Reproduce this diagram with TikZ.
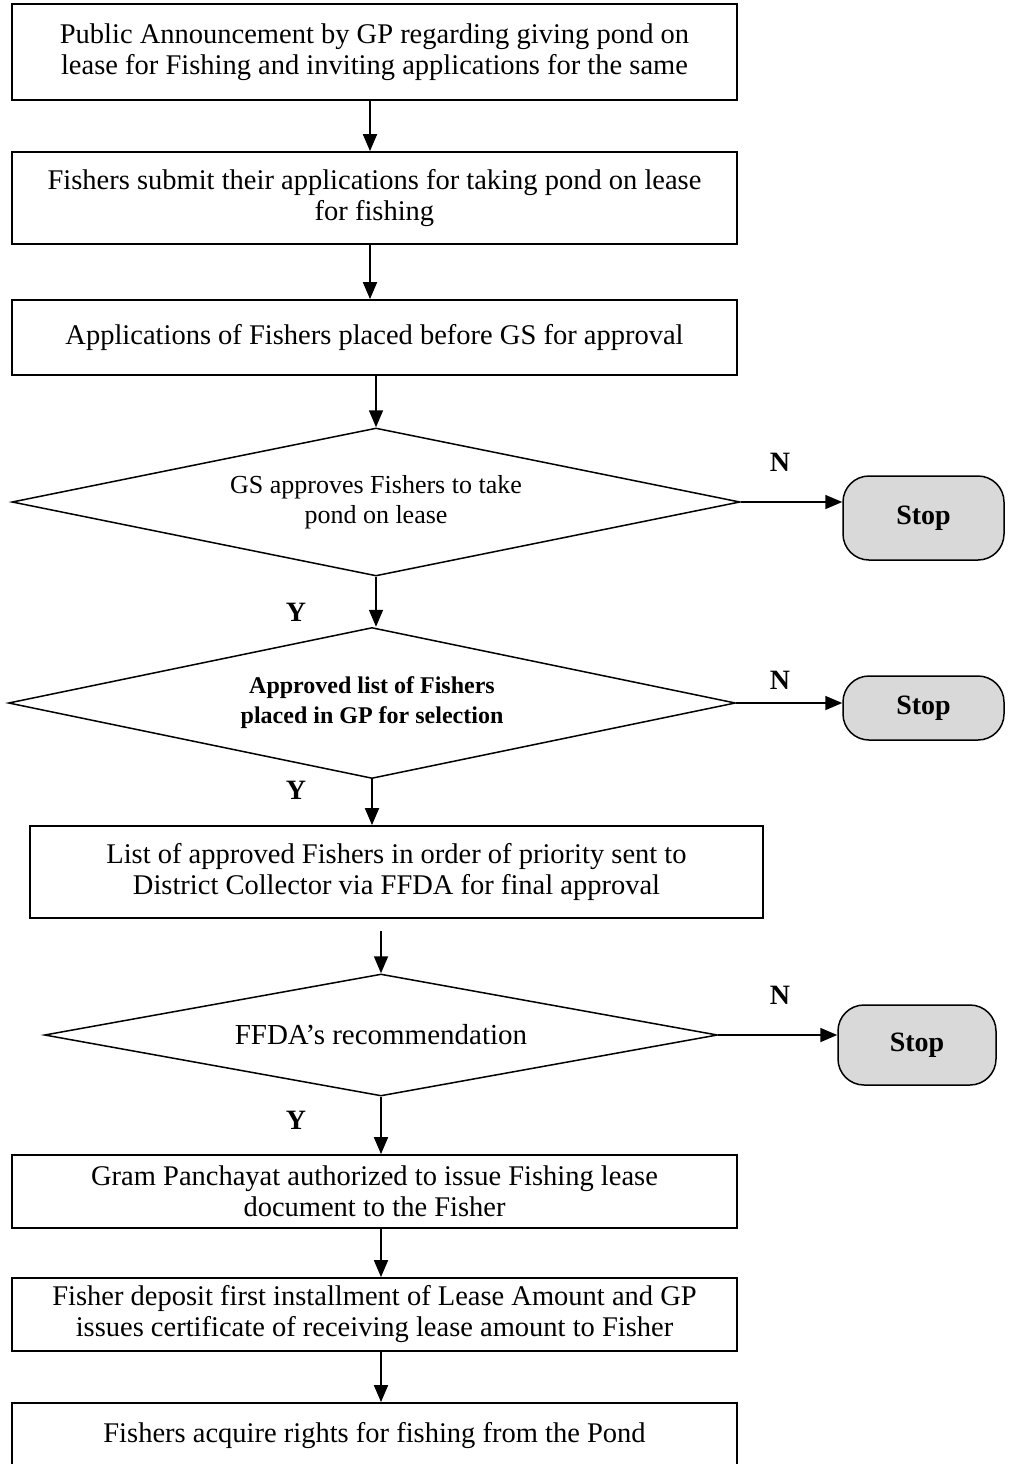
\documentclass[tikz,border=0pt]{standalone}
\usepackage{fontspec}
\setmainfont{Liberation Serif}
\usetikzlibrary{shapes.geometric,arrows.meta,calc}
\begin{document}
\begin{tikzpicture}[x=1pt,y=-1pt,
  box/.style={draw,line width=1.8pt,minimum height=#1,inner sep=0pt,align=center,font=\fontsize{28.5}{31}\selectfont},
  dec/.style={draw,diamond,line width=1.5pt,inner sep=0pt,align=center,font=\fontsize{26}{30}\selectfont},
  stopbox/.style={draw,line width=1.5pt,fill=black!15,rounded corners=26pt,inner sep=0pt,font=\bfseries\fontsize{28}{30}\selectfont},
  arr/.style={line width=1.8pt,-{Triangle[length=17pt,width=14pt]}},
  lbl/.style={font=\bfseries\fontsize{28}{30}\selectfont}]
\useasboundingbox (0,0) rectangle (1012,1464);
\node[box=96pt,minimum width=725pt] (b1) at (374.5,52) {Public Announcement by GP regarding giving pond on\\lease for Fishing and inviting applications for the same};
\node[box=92pt,minimum width=725pt] (b2) at (374.5,198) {Fishers submit their applications for taking pond on lease\\for fishing};
\node[box=75pt,minimum width=725pt] (b3) at (374.5,337.5) {Applications of Fishers placed before GS for approval};
\node[dec,minimum width=728pt,minimum height=148pt,shape aspect=4.92] (d1) at (376,502) {GS approves Fishers to take\\pond on lease};
\node[stopbox,minimum width=161pt,minimum height=84pt] (s1) at (923.5,518) {Stop};
\node[dec,minimum width=727pt,minimum height=151pt,shape aspect=4.81,font=\bfseries\fontsize{24}{30}\selectfont] (d2) at (372,703) {Approved list of Fishers\\placed in GP for selection};
\node[stopbox,minimum width=161pt,minimum height=64pt] (s2) at (923.5,708) {Stop};
\node[box=92pt,minimum width=733pt] (b4) at (396.5,872) {List of approved Fishers in order of priority sent to\\District Collector via FFDA for final approval};
\node[dec,minimum width=673pt,minimum height=122pt,shape aspect=5.52,font=\fontsize{29}{30}\selectfont] (d3) at (381,1035) {FFDA's recommendation};
\node[stopbox,minimum width=158pt,minimum height=80pt] (s3) at (917,1045) {Stop};
\node[box=73pt,minimum width=725pt] (b5) at (374.5,1191.5) {Gram Panchayat authorized to issue Fishing lease\\document to the Fisher};
\node[box=73pt,minimum width=725pt] (b6) at (374.5,1314.5) {Fisher deposit first installment of Lease Amount and GP\\issues certificate of receiving lease amount to Fisher};
\node[box=66pt,minimum width=725pt] (b7) at (374.5,1436) {Fishers acquire rights for fishing from the Pond};
\node[lbl] (n1) at (780,462) {N};
\node[lbl] (n2) at (780,680) {N};
\node[lbl] (n3) at (780,995) {N};
\node[lbl] (y1) at (296,612) {Y};
\node[lbl] (y2) at (296,790) {Y};
\node[lbl] (y3) at (296,1120) {Y};
\draw[arr] (b1.south -| 370,0) -- (b2.north -| 370,0);
\draw[arr] (b2.south -| 370,0) -- (b3.north -| 370,0);
\draw[arr] (b3.south -| d1.north) -- (d1.north);
\draw[arr] (d1.south) -- (d1.south |- d2.north);
\draw[arr] (d2.south) -- (d2.south |- b4.north);
\draw[arr,shorten <=12pt] (b4.south -| d3.north) -- (d3.north);
\draw[arr] (d3.south) -- (d3.south |- b5.north);
\draw[arr] (b5.south -| d3.south) -- (b6.north -| d3.south);
\draw[arr] (b6.south -| d3.south) -- (b7.north -| d3.south);
\draw[arr] (d1.east) -- (d1.east -| s1.west);
\draw[arr] (d2.east) -- (d2.east -| s2.west);
\draw[arr] (d3.east) -- (d3.east -| s3.west);
\end{tikzpicture}
\end{document}
